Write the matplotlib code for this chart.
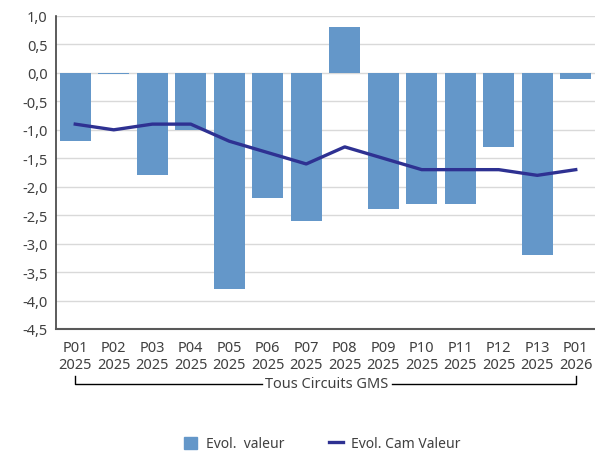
import numpy as np
import matplotlib.pyplot as plt
from matplotlib.lines import Line2D
from matplotlib.patches import Patch

plt.rcParams['font.family'] = ['Noto Sans', 'DejaVu Sans']

# données
periodes = ["P01\n2025", "P02\n2025", "P03\n2025", "P04\n2025", "P05\n2025", "P06\n2025", "P07\n2025",
            "P08\n2025", "P09\n2025", "P10\n2025", "P11\n2025", "P12\n2025", "P13\n2025", "P01\n2026"]
evol_valeur = [-1.2, -0.02, -1.8, -1.0, -3.8, -2.2, -2.6, 0.8, -2.4, -2.3, -2.3, -1.3, -3.2, -0.1]
evol_cam = [-0.9, -1.0, -0.9, -0.9, -1.2, -1.4, -1.6, -1.3, -1.5, -1.7, -1.7, -1.7, -1.8, -1.7]
yticks = np.arange(-4.5, 1.01, 0.5)
groupe = "Tous Circuits GMS"

gris = "#404040"
x = np.arange(len(periodes))

fig = plt.figure(figsize=(5.95, 4.52), dpi=100)
ax = fig.add_axes([56 / 595, 1 - 330 / 452, 539 / 595, 313 / 452])

ax.bar(x, evol_valeur, width=0.8, color="#6497c9", zorder=2)
ax.plot(x, evol_cam, color="#2e3192", lw=2.4, zorder=3)

ax.set_xlim(-0.5, len(periodes) - 0.5)
ax.set_ylim(-4.5, 1.0)
ax.set_yticks(yticks)
ax.set_yticklabels([f"{v:.1f}".replace(".", ",") for v in yticks])
ax.set_xticks(x)
ax.set_xticklabels(periodes, linespacing=1.15)
ax.tick_params(length=0, labelsize=10.5, colors=gris, pad=6)
ax.tick_params(axis="x", pad=8)
ax.yaxis.grid(True, color="#d9d9d9", lw=1, zorder=0)
for s in ["top", "right"]:
    ax.spines[s].set_visible(False)
ax.spines["left"].set_color("#404040")
ax.spines["bottom"].set_color("#595959")
ax.spines["left"].set_linewidth(1.2)
ax.spines["bottom"].set_linewidth(1.5)

# accolade du groupe
yb = 1 - 385 / 452
yt = 1 - 377 / 452
x0 = (56 + 0.5 * 38.5) / 595
x1 = (56 + 13.5 * 38.5) / 595
fig.add_artist(Line2D([x0, x0, 262 / 595], [yt, yb, yb], color="black", lw=1))
fig.add_artist(Line2D([392 / 595, x1, x1], [yb, yb, yt], color="black", lw=1))
fig.text(327 / 595, yb, groupe, ha="center", va="center", fontsize=10.5, color=gris)

handles = [Patch(color="#6497c9", label="Evol.  valeur"),
           Line2D([], [], color="#2e3192", lw=2.4, label="Evol. Cam Valeur")]
fig.legend(handles=handles, loc="center", bbox_to_anchor=(322 / 595, 1 - 445 / 452), ncol=2,
           frameon=False, fontsize=10, labelcolor=gris, handlelength=1.0, handleheight=1.0,
           columnspacing=3.2, handletextpad=0.6)

fig.savefig("out.png", dpi=100)
